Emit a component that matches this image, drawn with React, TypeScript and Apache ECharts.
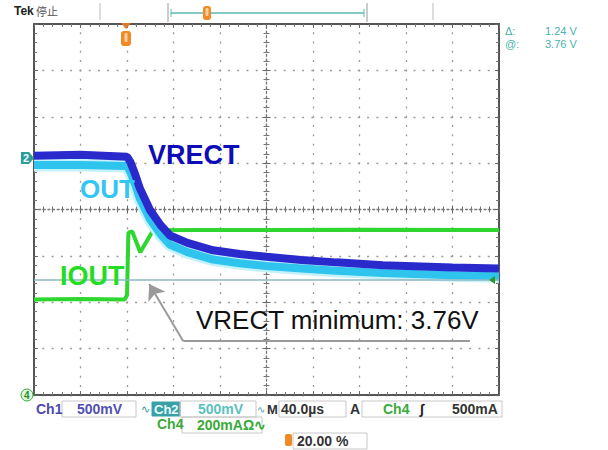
import React, { useEffect, useRef } from "react";
import * as echarts from "echarts";

const FONT = '"Liberation Sans", Arial, sans-serif';

// Horizontal: time in µs, 40 µs/div, trigger at 20 %
const timeMin = -80;
const timeMax = 320;
const timeStep = 40;
// CH1 / CH2: volts, 500 mV/div
const voltMin = 2.52;
const voltMax = 6.52;
const voltStep = 0.5;
// CH4: mA, 200 mA/div
const currentMin = 0;
const currentMax = 1600;
const currentStep = 200;

// VRECT (CH1, dark blue) [µs, V]
const vrect: [number, number][] = [
  [-80, 5.1], [-40, 5.11], [0, 5.09], [3, 5.03], [7, 4.9], [11, 4.75], [20, 4.51],
  [29, 4.35], [37, 4.24], [52, 4.16], [74, 4.08], [97, 4.04], [120, 4.01],
  [150, 3.975], [180, 3.95], [220, 3.92], [280, 3.895], [320, 3.885],
];
// OUT (CH2, cyan) [µs, V]
const vout: [number, number][] = [
  [-80, 5.0], [-40, 5.0], [0, 4.99], [3, 4.92], [7, 4.79], [11, 4.64], [20, 4.41],
  [29, 4.25], [37, 4.14], [52, 4.06], [74, 3.98], [97, 3.94], [120, 3.91],
  [150, 3.885], [180, 3.86], [220, 3.835], [280, 3.81], [320, 3.8],
];
// IOUT (CH4, green) [µs, mA]
const iout: [number, number][] = [
  [-80, 412], [-40, 414], [-2, 412], [0, 430], [1.2, 700], [4.5, 705], [11.4, 616],
  [22.5, 711], [60, 712], [120, 712], [200, 713], [320, 712],
];

const cursorVolt = 3.76;
const cursorDelta = 1.24;
const seriesNames = ["VRECT", "OUT", "IOUT"];
const annotation = "VRECT minimum: 3.76V";

export default function App() {
  const ref = useRef<HTMLDivElement>(null);
  useEffect(() => {
    if (!ref.current) return;
    const chart = echarts.init(ref.current, null, { renderer: "svg" });

    const borderLine = { show: true, onZero: false, lineStyle: { color: "#555", width: 2 } };
    const borderTick = { show: true, inside: true, length: 4, lineStyle: { color: "#666", width: 1 } };
    const borderMinor = { show: true, splitNumber: 5, length: 3, lineStyle: { color: "#777", width: 1 } };
    const dotted = { show: true, lineStyle: { color: "#9a9a9a", width: 1.3, type: [2, 7.28], dashOffset: 1 } };
    const centerLine = { show: true, onZero: false, lineStyle: { color: "#777", width: 1.3, type: [2, 2.64] } };
    const centerTick = (inside: boolean) => ({ show: true, inside, length: 4, lineStyle: { color: "#666", width: 1 } });
    const centerMinor = { show: true, splitNumber: 5, length: 3, lineStyle: { color: "#777", width: 1 } };
    const noLabel = { show: false };

    const xBase = { type: "value", min: timeMin, max: timeMax, interval: timeStep, axisLabel: noLabel };
    const yBase = { type: "value", min: voltMin, max: voltMax, interval: voltStep, axisLabel: noLabel };

    const txt = (x: number, y: number, text: string, font: string, fill: string, extra: any = {}) => ({
      type: "text",
      x,
      y,
      z: 110,
      style: { text, font, fill, verticalAlign: "middle", ...extra },
    });
    const ln = (x1: number, y1: number, x2: number, y2: number, stroke: string, lineWidth = 1) => ({
      type: "line",
      z: 100,
      shape: { x1, y1, x2, y2 },
      style: { stroke, lineWidth },
    });
    const box = (x: number, y: number, width: number, height: number, stroke = "#c8c8c8", fill = "none") => ({
      type: "rect",
      z: 99,
      shape: { x, y, width, height },
      style: { stroke, fill, lineWidth: 1 },
    });

    const bold14 = `bold 14px ${FONT}`;

    chart.setOption({
      animation: false,
      backgroundColor: "#ffffff",
      grid: { left: 34, top: 24, width: 465, height: 371, containLabel: false },
      xAxis: [
        { ...xBase, position: "bottom", axisLine: borderLine, axisTick: borderTick, minorTick: borderMinor, splitLine: dotted },
        { ...xBase, position: "top", axisLine: borderLine, axisTick: borderTick, minorTick: borderMinor, splitLine: { show: false } },
        { ...xBase, position: "bottom", offset: -185.5, axisLine: centerLine, axisTick: centerTick(true), minorTick: centerMinor, splitLine: { show: false } },
        { ...xBase, position: "bottom", offset: -185.5, axisLine: { show: false }, axisTick: centerTick(false), minorTick: centerMinor, splitLine: { show: false } },
      ],
      yAxis: [
        { ...yBase, position: "left", axisLine: borderLine, axisTick: borderTick, minorTick: borderMinor, splitLine: dotted },
        { type: "value", min: currentMin, max: currentMax, interval: currentStep, axisLabel: noLabel, position: "right", axisLine: borderLine, axisTick: borderTick, minorTick: borderMinor, splitLine: { show: false } },
        { ...yBase, position: "left", offset: -232.5, axisLine: centerLine, axisTick: centerTick(true), minorTick: centerMinor, splitLine: { show: false } },
        { ...yBase, position: "left", offset: -232.5, axisLine: { show: false }, axisTick: centerTick(false), minorTick: centerMinor, splitLine: { show: false } },
      ],
      series: [
        {
          name: seriesNames[2],
          type: "line",
          xAxisIndex: 0,
          yAxisIndex: 1,
          data: iout,
          showSymbol: false,
          lineStyle: { color: "#2fd62f", width: 4 },
          z: 2,
        },
        {
          name: seriesNames[1] + " glow",
          type: "line",
          xAxisIndex: 0,
          yAxisIndex: 0,
          data: vout,
          showSymbol: false,
          lineStyle: { color: "#c4f2fb", width: 13 },
          z: 3,
        },
        {
          name: seriesNames[1],
          type: "line",
          xAxisIndex: 0,
          yAxisIndex: 0,
          data: vout,
          showSymbol: false,
          lineStyle: { color: "#2ec4ee", width: 8 },
          z: 4,
        },
        {
          name: seriesNames[0],
          type: "line",
          xAxisIndex: 0,
          yAxisIndex: 0,
          data: vrect,
          showSymbol: false,
          lineStyle: { color: "#2a2acc", width: 8 },
          z: 5,
          markLine: {
            silent: true,
            label: { show: false },
            symbol: "none",
            data: [
              { yAxis: cursorVolt, lineStyle: { color: "#8fb8c0", width: 1.5, type: "solid" } },
              [
                { coord: [48.3, 3.102], symbol: "none", lineStyle: { color: "#9a9a9a", width: 2, type: "solid" } },
                { coord: [295, 3.102], symbol: "none" },
              ],
              [
                { coord: [48.3, 3.102], symbol: "none", lineStyle: { color: "#9a9a9a", width: 2, type: "solid" } },
                { coord: [19.1, 3.716], symbol: "arrow", symbolSize: 15 },
              ],
            ],
          },
        },
      ],
      graphic: [
        // header
        txt(14, 11, "Tek", `bold 12px ${FONT}`, "#222"),
        txt(36, 11, "停止", `11px "Noto Sans CJK SC"`, "#555"),
        ln(100, 3, 100, 20, "#bbb"),
        ln(433, 3, 433, 20, "#bbb"),
        ln(168, 3, 168, 22, "#999"),
        ln(367, 3, 367, 22, "#999"),
        ln(171, 13, 364, 13, "#5cb8b0", 1.5),
        ln(171, 9, 171, 17, "#5cb8b0"),
        ln(364, 9, 364, 17, "#5cb8b0"),
        { type: "rect", z: 101, shape: { x: 203, y: 6, width: 8, height: 14, r: 3 }, style: { fill: "#f08a24" } },
        { type: "rect", z: 102, shape: { x: 205.5, y: 8, width: 3, height: 8, r: 1 }, style: { fill: "#fbd0a0" } },
        // trigger position marker
        { type: "polygon", z: 101, shape: { points: [[121, 23], [131, 23], [126, 29]] }, style: { fill: "#e0782a" } },
        { type: "rect", z: 101, shape: { x: 121, y: 31, width: 10, height: 15, r: 3 }, style: { fill: "#f08a24" } },
        { type: "rect", z: 102, shape: { x: 124.5, y: 33, width: 3, height: 9, r: 1 }, style: { fill: "#fbd0a0" } },
        // trigger level marker (right edge)
        { type: "polygon", z: 101, shape: { points: [[489, 280], [495, 276], [495, 284]] }, style: { fill: "#2a9a2a" } },
        // cursor readout
        txt(505, 31, "Δ:", `11px ${FONT}`, "#48b4a8"),
        txt(545, 31, `${cursorDelta.toFixed(2)} V`, `11px ${FONT}`, "#48b4a8"),
        txt(505, 44, "@:", `11px ${FONT}`, "#48b4a8"),
        txt(545, 44, `${cursorVolt.toFixed(2)} V`, `11px ${FONT}`, "#48b4a8"),
        // channel markers
        { type: "polygon", z: 101, shape: { points: [[21, 152], [29, 152], [34, 158], [29, 164], [21, 164]] }, style: { fill: "#2e9a9a" } },
        txt(23, 158, "2", `bold 11px ${FONT}`, "#e8ffff"),
        { type: "rect", z: 101, shape: { x: 21, y: 389, width: 12, height: 12, r: 6 }, style: { fill: "#dff7df", stroke: "#3aaa3a" } },
        txt(24, 395, "4", `bold 10px ${FONT}`, "#2a8a2a"),
        // trace labels
        txt(148, 155, seriesNames[0], `bold 27px ${FONT}`, "#0d0db8"),
        txt(80, 189, seriesNames[1], `bold 26px ${FONT}`, "#33c6f2"),
        txt(60, 276, seriesNames[2], `bold 27px ${FONT}`, "#22dd22"),
        { type: "text", x: 196, y: 333, z: 110, style: { text: annotation, font: `26px ${FONT}`, fill: "#111", verticalAlign: "bottom" } },
        // bottom status rows
        txt(36, 409, "Ch1", bold14, "#4a4ab0"),
        box(62, 401, 74, 16),
        txt(77, 409, "500mV", bold14, "#5050b0"),
        txt(141, 409, "∿", `11px ${FONT}`, "#3a9a9a"),
        box(152, 402, 28, 14, "#3aa0a8", "#3aa0a8"),
        txt(154, 409, "Ch2", `bold 13px ${FONT}`, "#eaffff"),
        box(180, 401, 76, 16),
        txt(198, 409, "500mV", bold14, "#5cc0c0"),
        txt(257, 409, "∿", `10px ${FONT}`, "#3a9a9a"),
        txt(267, 409, "M", `bold 13px ${FONT}`, "#333"),
        box(279, 401, 67, 16),
        txt(281, 409, "40.0µs", bold14, "#333"),
        txt(350, 409, "A", bold14, "#333"),
        box(362, 401, 140, 16),
        txt(383, 409, "Ch4", bold14, "#3aaa3a"),
        txt(420, 409, "∫", `bold italic 14px ${FONT}`, "#222"),
        txt(452, 409, "500mA", bold14, "#333"),
        txt(157, 424, "Ch4", bold14, "#3aaa3a"),
        box(182, 417, 80, 16),
        txt(197, 425, "200mAΩ∿", bold14, "#3aaa3a"),
        { type: "rect", z: 101, shape: { x: 285, y: 434, width: 7, height: 12, r: 2 }, style: { fill: "#f08a24" } },
        box(293, 433, 74, 16),
        txt(297, 441, "20.00 %", bold14, "#333"),
      ],
    });
    return () => chart.dispose();
  }, []);
  return <div ref={ref} style={{ position: "fixed", left: 0, top: 0, width: 608, height: 450 }} />;
}
